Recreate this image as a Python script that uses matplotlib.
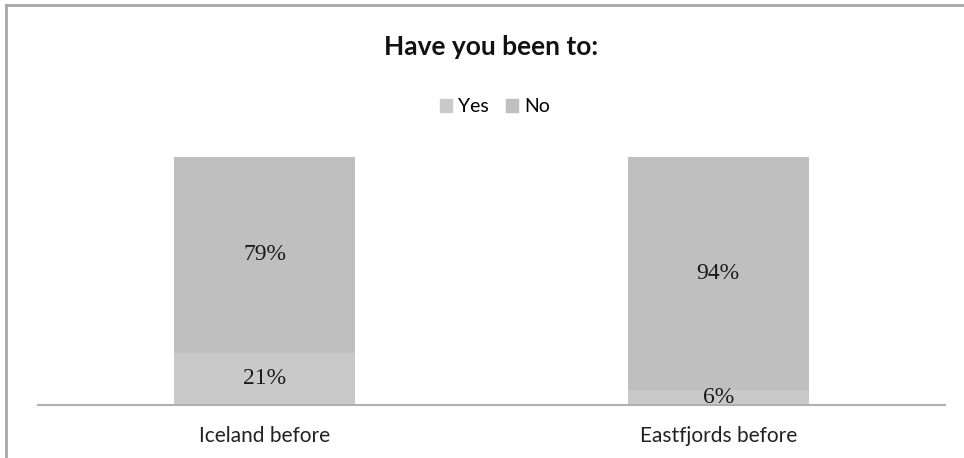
import matplotlib
matplotlib.use('Agg')
import matplotlib.pyplot as plt
from matplotlib.patches import Patch
from matplotlib.lines import Line2D

# chart data
categories = ['Iceland before', 'Eastfjords before']
yes_vals = [21, 6]
no_vals = [79, 94]
yes_color = '#c9c9c9'
no_color = '#bfbfbf'

fig = plt.figure(figsize=(9.64, 4.58), dpi=100)
ax = fig.add_axes([38/964, 53/458, 907/964, 248/458])

xs = range(len(categories))
ax.bar(xs, yes_vals, width=0.40, color=yes_color)
ax.bar(xs, no_vals, width=0.40, bottom=yes_vals, color=no_color)

# percentage labels in the middle of each segment
for x, y, n in zip(xs, yes_vals, no_vals):
    ax.text(x, y / 2, '%d%%' % y, ha='center', va='center',
            fontsize=17, family='Liberation Serif', color='#1a1a1a')
    ax.text(x, y + n / 2, '%d%%' % n, ha='center', va='center',
            fontsize=17, family='Liberation Serif', color='#1a1a1a')

ax.set_xlim(-0.5, 1.5)
ax.set_ylim(0, 100)
ax.set_yticks([])
ax.set_xticks(list(xs))
ax.set_xticklabels(categories, fontsize=15, family='Lato', color='#222222')
ax.tick_params(axis='x', length=0, pad=15)
for s in ['top', 'right', 'left']:
    ax.spines[s].set_visible(False)
ax.spines['bottom'].set_color('#b0b0b0')
ax.spines['bottom'].set_linewidth(1.5)

# title and legend
fig.text(491/964, 1 - 47/458, 'Have you been to:', ha='center', va='center',
         fontsize=19, fontweight='bold', family='Lato', color='#111111')
handles = [Patch(color=yes_color, label='Yes'), Patch(color=no_color, label='No')]
fig.legend(handles=handles, loc='center', bbox_to_anchor=(495/964, 1 - 107/458),
           ncol=2, frameon=False, prop={'family': 'Lato', 'size': 14},
           handlelength=0.62, handleheight=0.62, handletextpad=0.3, columnspacing=0.9)

# outer frame (top and left edges visible)
fig.add_artist(Line2D([6/964, 1.0], [1 - 5/458, 1 - 5/458], color='#a8a8a8', lw=2))
fig.add_artist(Line2D([6/964, 6/964], [0, 1 - 5/458], color='#a8a8a8', lw=2))

fig.savefig('out.png', dpi=100)
